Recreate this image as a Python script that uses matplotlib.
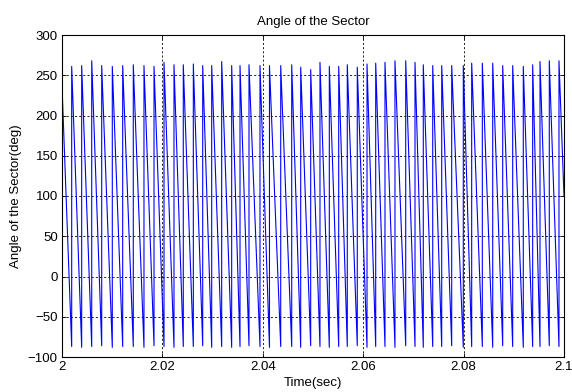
import matplotlib.pyplot as plt
import numpy as np

plt.rcParams['font.family'] = ['Liberation Sans', 'DejaVu Sans']

# 每個週期的峰值時間(秒)、峰值與谷值(deg)
peak_time = [2.00193, 2.00392, 2.00592, 2.00791, 2.01002, 2.01209, 2.01420, 2.01633, 2.01833,
             2.02032, 2.02231, 2.02416, 2.02616, 2.02803, 2.02982, 2.03181, 2.03380, 2.03546, 2.03725, 2.03944,
             2.04133, 2.04357, 2.04576, 2.04755, 2.04954, 2.05139, 2.05325, 2.05512, 2.05683, 2.05882,
             2.06076, 2.06249, 2.06434, 2.06633, 2.06847, 2.07032, 2.07197, 2.07385, 2.07564, 2.07763,
             2.07994, 2.08161, 2.08373, 2.08580, 2.08779, 2.08978, 2.09189, 2.09376, 2.09522, 2.09707, 2.09900]
peak_val = [261, 262, 268, 262, 261, 262, 263, 262, 261,
            266, 263, 263, 264, 262, 262, 267, 262, 262, 263, 262,
            262, 262, 263, 260, 257, 266, 261, 261, 263, 260,
            264, 265, 266, 268, 268, 266, 263, 262, 262, 262,
            262, 265, 265, 265, 262, 262, 261, 263, 267, 268, 268]
trough_val = [-87, -88, -87, -86, -88, -87, -87, -88, -86,
              -87, -88, -87, -87, -86, -88, -87, -88, -87, -86, -87,
              -88, -87, -87, -88, -86, -87, -88, -87, -87, -86,
              -88, -87, -87, -88, -86, -87, -88, -87, -87, -86,
              -88, -87, -87, -88, -86, -87, -88, -87, -87, -86, -87]
start_val = 237
end_val = 100

x_ticks = [2, 2.02, 2.04, 2.06, 2.08, 2.1]
x_ticklabels = ['2', '2.02', '2.04', '2.06', '2.08', '2.1']
y_ticks = [-100, -50, 0, 50, 100, 150, 200, 250, 300]

# 組成鋸齒波
t = [2.0]
y = [start_val]
for tp, pv, tv in zip(peak_time, peak_val, trough_val):
    t += [tp, tp]
    y += [tv, pv]
t.append(2.1)
y.append(end_val)

fig = plt.figure(figsize=(5.72, 3.92), dpi=100)
ax = fig.add_axes([62 / 572, 1 - 357 / 392, 502 / 572, 322 / 392])
ax.plot(t, y, color=(0, 0, 1), linewidth=0.8)

ax.set_xlim(2, 2.1)
ax.set_ylim(-100, 300)
ax.set_xticks(x_ticks)
ax.set_xticklabels(x_ticklabels)
ax.set_yticks(y_ticks)
ax.grid(True, color='k', linestyle=(0, (2.5, 2.5)), linewidth=0.6)
ax.tick_params(direction='in', length=3, width=0.6, labelsize=9.5, pad=3,
               top=True, right=True)
for s in ax.spines.values():
    s.set_linewidth(0.8)

ax.set_title('Angle of the Sector', fontsize=9.5, pad=7)
ax.set_xlabel('Time(sec)', fontsize=9.5, labelpad=3)
ax.set_ylabel('Angle of the Sector(deg)', fontsize=9.5, labelpad=4)

fig.savefig('out.png', dpi=100)
